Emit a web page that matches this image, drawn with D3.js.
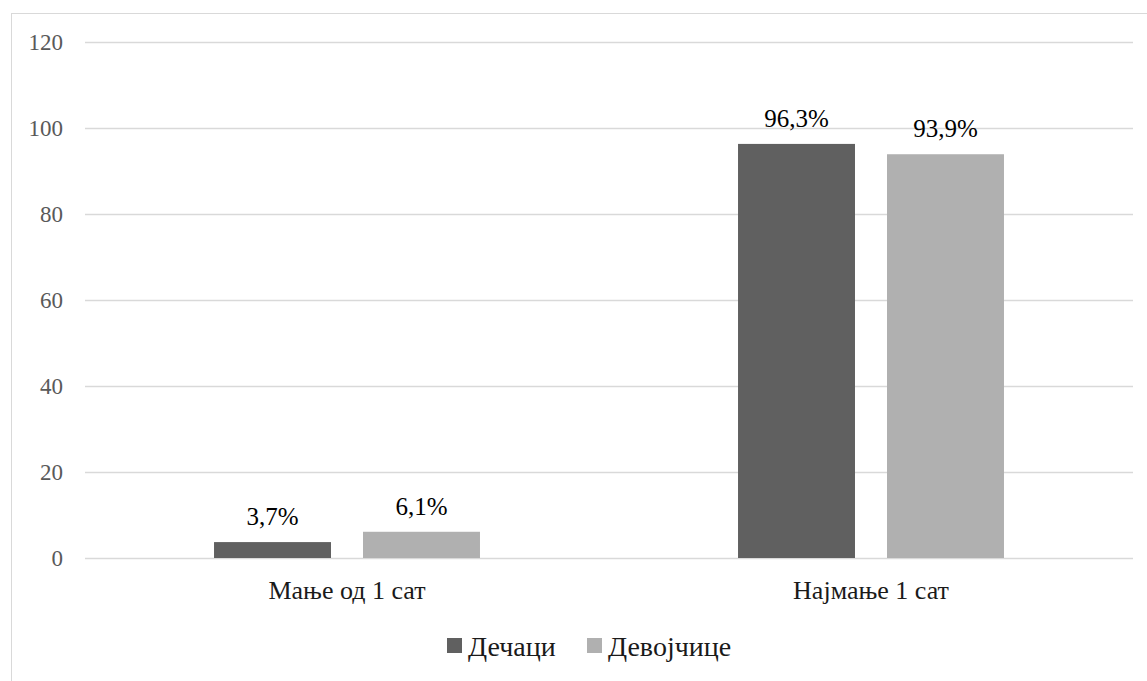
<!DOCTYPE html>
<html>
<head>
<meta charset="utf-8">
<script src="https://cdn.jsdelivr.net/npm/d3@7"></script>
<style>
  body { margin: 0; background: #fff; }
  svg text { font-family: "Liberation Serif", "Times New Roman", Times, serif; }
</style>
</head>
<body>
<svg id="chart" width="1147" height="681"></svg>
<script>
const categories = ["Мање од 1 сат", "Најмање 1 сат"];
const seriesNames = ["Дечаци", "Девојчице"];
const boys = [3.7, 96.3];
const girls = [6.1, 93.9];
const yTicks = [0, 20, 40, 60, 80, 100, 120];
const colors = ["#606060", "#b0b0b0"];

const FONT = "'Liberation Serif', 'Times New Roman', Times, serif";
const svg = d3.select("#chart");
const W = 1147, H = 681;
const m = {left: 85, right: 14, top: 42, bottom: 123};

// outer chart frame (bottom and right fall outside the picture)
svg.append("rect")
  .attr("x", 11.5).attr("y", 13.5)
  .attr("width", W + 10).attr("height", H + 10)
  .attr("fill", "none").attr("stroke", "#d9d9d9");

const x = d3.scaleBand().domain(categories).range([m.left, W - m.right]);
const xs = d3.scaleBand().domain(seriesNames).range([0, x.bandwidth()])
  .paddingInner(0.215).paddingOuter(0.866);
const y = d3.scaleLinear().domain([0, 120]).range([H - m.bottom, m.top]);

// gridlines + y labels
const yAxis = svg.append("g")
  .attr("transform", `translate(${m.left},0)`)
  .call(d3.axisLeft(y).tickValues(yTicks).tickSize(-(W - m.left - m.right)).tickPadding(22))
  .attr("font-family", FONT);
yAxis.select(".domain").remove();
yAxis.selectAll(".tick line").attr("stroke", "#d9d9d9").attr("stroke-width", 1.5);
yAxis.selectAll(".tick text")
  .attr("fill", "#595959")
  .attr("font-family", FONT)
  .attr("font-size", 23);

const rows = categories.map((c, i) => ({cat: c, vals: [boys[i], girls[i]]}));

const groups = svg.append("g").selectAll("g")
  .data(rows).join("g")
  .attr("transform", d => `translate(${x(d.cat)},0)`);

groups.selectAll("rect")
  .data(d => d.vals.map((v, j) => ({s: seriesNames[j], v, j})))
  .join("rect")
  .attr("x", d => xs(d.s))
  .attr("width", xs.bandwidth())
  .attr("y", d => y(d.v))
  .attr("height", d => y(0) - y(d.v))
  .attr("fill", d => colors[d.j]);

groups.selectAll("text.val")
  .data(d => d.vals.map((v, j) => ({s: seriesNames[j], v, j})))
  .join("text")
  .attr("class", "val")
  .attr("x", d => xs(d.s) + xs.bandwidth() / 2)
  .attr("y", d => y(d.v) - 17)
  .attr("text-anchor", "middle")
  .attr("fill", "#000")
  .attr("font-family", FONT)
  .attr("font-size", 25)
  .text(d => d.v.toFixed(1).replace(".", ",") + "%");

// category labels
svg.append("g").selectAll("text")
  .data(categories).join("text")
  .attr("x", d => x(d) + x.bandwidth() / 2)
  .attr("y", y(0) + 41)
  .attr("text-anchor", "middle")
  .attr("fill", "#1a1a1a")
  .attr("font-family", FONT)
  .attr("font-size", 26)
  .text(d => d);

// legend
const legendX = [447, 587];
const leg = svg.append("g").selectAll("g")
  .data(seriesNames).join("g")
  .attr("transform", (d, i) => `translate(${legendX[i]},638)`);
leg.append("rect").attr("width", 15).attr("height", 15)
  .attr("fill", (d, i) => colors[i]);
leg.append("text").attr("x", 21).attr("y", 18)
  .attr("fill", "#1a1a1a")
  .attr("font-family", FONT)
  .attr("font-size", 28)
  .text(d => d);
</script>
</body>
</html>
